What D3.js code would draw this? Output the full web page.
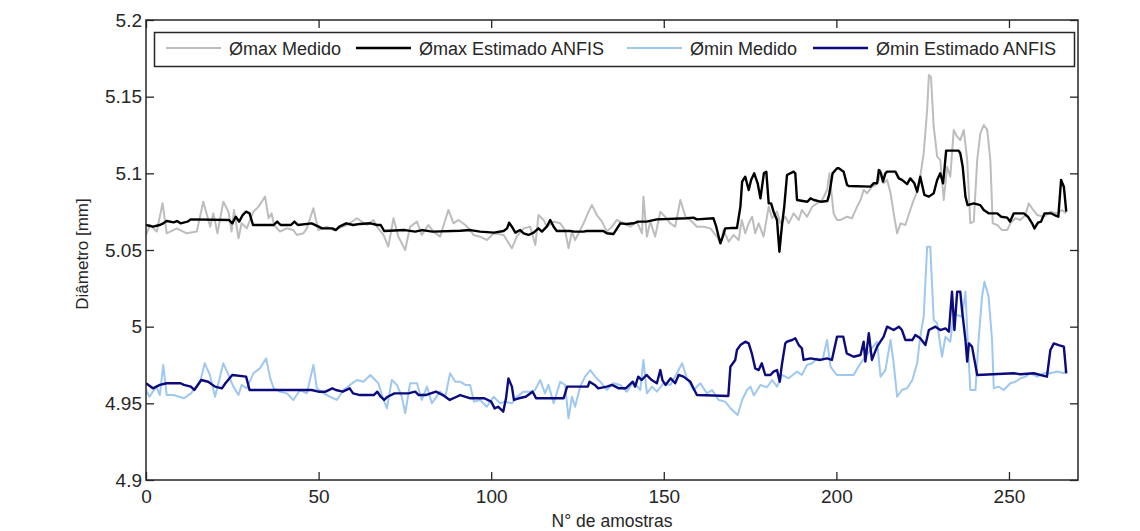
<!DOCTYPE html>
<html lang="pt">
<head>
<meta charset="utf-8">
<title>Diâmetro medido vs estimado ANFIS</title>
<script src="https://cdn.jsdelivr.net/npm/d3@7/dist/d3.min.js"></script>
<style>
    html, body { margin: 0; padding: 0; background: #ffffff; }
    svg { display: block; font-family: "Liberation Sans", Arial, sans-serif; }
</style>
</head>
<body>
<div id="chart"></div>
<script>
// Axis ticks
const xTicks = [0, 50, 100, 150, 200, 250];
const yTicks = [4.9, 4.95, 5.0, 5.05, 5.1, 5.15, 5.2];

// Legend labels (same order as the series are drawn)
const seriesNames = ['Ømax Medido', 'Ømax Estimado ANFIS', 'Ømin Medido', 'Ømin Estimado ANFIS'];

// [sample, diameter mm]
const maxMedido = [
    [0, 5.0598], [1.2, 5.0663], [3.1, 5.062], [4.8, 5.0805], [6, 5.0609], [8.9, 5.0641], [11.8, 5.0609],
    [14.7, 5.062], [16.6, 5.0815], [18.6, 5.0652], [19.5, 5.0739], [20.7, 5.0609], [22.4, 5.0815],
    [23.9, 5.075], [24.8, 5.062], [25.5, 5.0761], [26.8, 5.0576], [27.7, 5.0674], [29.2, 5.0641],
    [31.1, 5.075], [32.6, 5.0783], [34.5, 5.0848], [35.5, 5.0707], [36.4, 5.0739], [37.1, 5.0663],
    [38.8, 5.062], [40.8, 5.0641], [42.7, 5.063], [43.7, 5.0598], [45.6, 5.0609], [46.6, 5.0641],
    [48.5, 5.0772], [49.9, 5.063], [52.4, 5.0652], [54.3, 5.063], [58.2, 5.0663], [61.1, 5.0707],
    [64, 5.0663], [65.9, 5.0696], [66.9, 5.0652], [68.8, 5.0598], [70.2, 5.0522], [71.7, 5.0707],
    [73.1, 5.0587], [75.1, 5.05], [76.5, 5.0652], [78.5, 5.0685], [79.9, 5.0598], [81.8, 5.0663],
    [83.3, 5.062], [85.2, 5.0587], [87.6, 5.0761], [89.1, 5.0674], [90.5, 5.0696], [92.5, 5.0663],
    [93.9, 5.063], [94.9, 5.0598], [96.8, 5.0587], [98.8, 5.0565], [100.7, 5.0609], [103.6, 5.0598],
    [106, 5.0511], [107.4, 5.0587], [109.4, 5.0641], [111.3, 5.0652], [112.8, 5.0533], [113.7, 5.0728],
    [115.2, 5.0696], [116.1, 5.0652], [118.1, 5.0685], [120, 5.0674], [121.4, 5.063], [122.4, 5.0511],
    [123.4, 5.062], [124.3, 5.0565], [125.8, 5.063], [127.2, 5.0696], [128.2, 5.075], [129.2, 5.0793],
    [130.6, 5.0728], [132.1, 5.0685], [133.5, 5.062], [135, 5.0652], [136.4, 5.0696], [138.4, 5.0674],
    [140.3, 5.0652], [142.2, 5.0685], [143.7, 5.0609], [144.1, 5.0848], [145.1, 5.0587], [146.1, 5.0685],
    [147.5, 5.0587], [149, 5.075], [150.4, 5.0717], [151.9, 5.0674], [153.3, 5.0652], [154.8, 5.0826],
    [156.3, 5.0717], [157.7, 5.0696], [159.6, 5.0652], [161.5, 5.0652], [163.5, 5.0641], [165.4, 5.0587],
    [166.4, 5.0544], [167.3, 5.063], [168.8, 5.0554], [170.2, 5.0598], [171.7, 5.0565], [172.6, 5.0696],
    [173.6, 5.0609], [174.6, 5.0674], [175.6, 5.0717], [176.5, 5.0609], [177.5, 5.0674], [178.9, 5.0587],
    [180.4, 5.0783], [181.4, 5.0707], [182.8, 5.075], [183.8, 5.0674], [185.2, 5.0717], [186.2, 5.0674],
    [187.6, 5.0739], [189.1, 5.0696], [190, 5.0761], [191.5, 5.0717], [193, 5.0783], [194.4, 5.0804],
    [195.9, 5.0826], [197.3, 5.0891], [198, 5.1], [199.2, 5.0739], [200.2, 5.0696], [201.2, 5.0696],
    [203.1, 5.0717], [204.5, 5.0707], [206, 5.0783], [207, 5.0826], [207.9, 5.0891], [208.9, 5.087],
    [210.3, 5.0913], [211.3, 5.0924], [212.3, 5.0957], [212.8, 5.1022], [213.7, 5.0935], [214.7, 5.0957],
    [215.7, 5.087], [216.6, 5.0739], [217.6, 5.0609], [218.6, 5.0674], [220, 5.0663], [221.4, 5.0761],
    [222.4, 5.0826], [223.4, 5.088], [224.3, 5.0978], [225.3, 5.1131], [226.3, 5.1413], [226.8, 5.1641],
    [227.4, 5.163], [228.2, 5.1304], [229.2, 5.1109], [230.1, 5.1087], [231.1, 5.0826], [232.1, 5.1043],
    [233, 5.0978], [234, 5.1283], [235, 5.1239], [235.9, 5.1217], [236.9, 5.1283], [237.9, 5.1087],
    [238.8, 5.0674], [239.8, 5.0685], [240.8, 5.1087], [241.7, 5.1261], [242.7, 5.1315], [243.7, 5.1283],
    [244.6, 5.1087], [245.3, 5.0674], [246.6, 5.0663], [248, 5.063], [249.5, 5.063], [250.4, 5.0674],
    [251.9, 5.0707], [253.3, 5.0696], [254.8, 5.0728], [255.7, 5.0804], [256.7, 5.0772], [258.2, 5.0728],
    [260.1, 5.0717], [262, 5.075], [264, 5.0739], [265.4, 5.0761], [266.6, 5.0739]
];

const maxEstimado = [
    [0, 5.0663], [2, 5.0652], [4, 5.0663], [5, 5.0674], [6, 5.0689], [8, 5.068], [9, 5.0689], [10, 5.0674],
    [12, 5.0685], [13, 5.07], [24, 5.0696], [25, 5.0674], [26, 5.0717], [27, 5.0685], [28, 5.0728],
    [29, 5.075], [30, 5.0739], [31, 5.0663], [37, 5.0663], [38, 5.0685], [39, 5.0663], [42, 5.0663],
    [43, 5.0685], [44, 5.0663], [48, 5.0674], [50, 5.0652], [51, 5.0641], [54, 5.0641], [55, 5.063],
    [56, 5.0652], [58, 5.0674], [60, 5.0663], [62, 5.067], [65, 5.0674], [67, 5.0663], [68, 5.0663],
    [69, 5.0624], [75, 5.063], [78, 5.062], [80, 5.063], [83, 5.062], [91, 5.0626], [94, 5.063],
    [96.8, 5.062], [100.8, 5.0613], [103.6, 5.0624], [104.6, 5.0641], [105.2, 5.0678], [106, 5.0652],
    [107, 5.0613], [108.4, 5.063], [109.4, 5.0609], [110.8, 5.0598], [112.3, 5.0613], [113.7, 5.0641],
    [114.7, 5.062], [116.1, 5.0652], [117.1, 5.0696], [118.1, 5.0652], [119, 5.0624], [122.9, 5.0624],
    [124, 5.062], [126.7, 5.062], [127.7, 5.0624], [132.5, 5.0624], [133.5, 5.0609], [135.4, 5.0604],
    [137.4, 5.0674], [139.2, 5.067], [141.2, 5.0674], [142.6, 5.0685], [145, 5.0685], [148, 5.07],
    [156.7, 5.0707], [158.6, 5.0711], [159.6, 5.07], [164.4, 5.0707], [165.2, 5.0652], [165.9, 5.0587],
    [166.4, 5.0544], [167.1, 5.0587], [167.8, 5.0641], [169.3, 5.0643], [171.2, 5.0643], [172.2, 5.0783],
    [172.7, 5.0946], [173.6, 5.0978], [174.6, 5.0891], [175.3, 5.0957], [176.2, 5.1], [177.2, 5.0935],
    [178, 5.0837], [179, 5.1], [179.7, 5.1011], [180.4, 5.0804], [181.1, 5.0804], [181.8, 5.075],
    [182.8, 5.0696], [183.5, 5.0489], [184.2, 5.0652], [184.9, 5.0783], [185.7, 5.0989], [187.6, 5.1011],
    [188.1, 5.1], [188.6, 5.0826], [191.6, 5.0815], [192.5, 5.0837], [193.5, 5.0826], [195.4, 5.0815],
    [197.4, 5.082], [197.9, 5.0859], [198.9, 5.1], [200.2, 5.1033], [200.7, 5.1033], [202.1, 5.1011],
    [203.1, 5.0924], [203.6, 5.0917], [209.9, 5.0913], [210.8, 5.0935], [211.8, 5.0935], [212.3, 5.1022],
    [212.9, 5.1], [213.5, 5.0946], [214.2, 5.1], [214.7, 5.1011], [217.1, 5.1011], [218.1, 5.0967],
    [219, 5.0957], [220.5, 5.093], [221.4, 5.0967], [222.6, 5.0935], [223.4, 5.088], [224.3, 5.0978],
    [225.5, 5.0859], [226.8, 5.0848], [228.2, 5.087], [229.2, 5.0957], [230.1, 5.1], [230.9, 5.0935],
    [231.3, 5.1022], [231.8, 5.1148], [235.4, 5.1148], [235.9, 5.1131], [236.6, 5.1043], [237.4, 5.0848],
    [238, 5.0793], [239.8, 5.0804], [241.7, 5.0793], [242.7, 5.0761], [244.1, 5.0739], [246.6, 5.0739],
    [247.7, 5.0717], [249.5, 5.0711], [250.3, 5.0685], [251.4, 5.0739], [254.3, 5.0739], [255.5, 5.0717],
    [256.7, 5.0674], [257.4, 5.0641], [258.4, 5.0678], [259.3, 5.0685], [260.3, 5.0739], [262.2, 5.0739],
    [263.2, 5.0728], [264.3, 5.0717], [265.1, 5.0957], [265.9, 5.0913], [266.6, 5.075]
];

const minMedido = [
    [0, 4.9587], [1, 4.9543], [3, 4.9609], [4, 4.9554], [5, 4.975], [6, 4.9554], [8, 4.9554], [11, 4.9533],
    [13, 4.9565], [15.7, 4.9641], [17, 4.9761], [18.5, 4.9685], [20, 4.9543], [22.4, 4.9761],
    [23.9, 4.9685], [25.3, 4.9609], [26.8, 4.9554], [27.7, 4.962], [29.2, 4.9598], [31.1, 4.9696],
    [33, 4.9728], [34.8, 4.9793], [36, 4.9663], [37, 4.9598], [38.8, 4.9576], [40.8, 4.9565],
    [42.7, 4.9522], [44.6, 4.9587], [46.6, 4.9565], [48.5, 4.975], [49.5, 4.9598], [51.4, 4.9565],
    [53.3, 4.9543], [55.3, 4.9522], [57.2, 4.9587], [59.1, 4.962], [61.1, 4.9652], [63, 4.9641],
    [65, 4.9685], [67.3, 4.9631], [68.8, 4.9522], [69.8, 4.9467], [71.2, 4.9652], [72.7, 4.962],
    [74.1, 4.9543], [75.1, 4.9435], [76.5, 4.9631], [78.5, 4.9631], [79.9, 4.9522], [81.4, 4.9609],
    [82.8, 4.95], [85.2, 4.9576], [86.7, 4.9543], [88.1, 4.9696], [89.6, 4.9641], [91, 4.9641],
    [92.5, 4.962], [93.9, 4.962], [95, 4.9511], [96.8, 4.9522], [98.7, 4.9478], [100.7, 4.9543],
    [102.6, 4.95], [104, 4.9511], [106, 4.95], [107.4, 4.9543], [109.4, 4.9576], [111.3, 4.9576],
    [112.7, 4.9587], [114.2, 4.9652], [115.6, 4.9565], [116.6, 4.962], [118.1, 4.95], [120, 4.9641],
    [121.4, 4.962], [122.4, 4.9402], [123.4, 4.9543], [124.3, 4.9478], [125.8, 4.9609], [127.2, 4.9674],
    [128.7, 4.9717], [130.1, 4.9674], [131.6, 4.9641], [133.5, 4.9587], [135.4, 4.9631], [137.4, 4.962],
    [139.3, 4.9576], [141.2, 4.9641], [143.2, 4.9587], [144.1, 4.9783], [145.1, 4.9565], [146.6, 4.9609],
    [148, 4.9576], [149.9, 4.9631], [151.9, 4.962], [153.8, 4.9696], [155.3, 4.9761], [156.7, 4.9663],
    [158.6, 4.9587], [160.6, 4.9631], [162.5, 4.9565], [164, 4.9587], [165.9, 4.9522], [167.8, 4.9511],
    [169.3, 4.9468], [171.4, 4.9424], [172.7, 4.9522], [174.1, 4.9587], [175.1, 4.9609], [176.1, 4.9552],
    [178, 4.962], [179.9, 4.9605], [181.4, 4.9652], [182.8, 4.9609], [184.3, 4.9685], [186.2, 4.9663],
    [188.6, 4.9707], [190, 4.9685], [191.5, 4.975], [193, 4.9761], [194.4, 4.9793], [196, 4.9783],
    [197.3, 4.9913], [198.3, 4.9739], [199.7, 4.9696], [200.2, 4.9685], [205, 4.9685], [207, 4.9761],
    [208.4, 4.9804], [209.9, 4.9848], [211.8, 4.9902], [212.8, 4.9674], [214.2, 4.9717], [215.7, 4.9913],
    [216.6, 4.9761], [217.6, 4.9543], [219, 4.9587], [220.5, 4.9598], [222, 4.9652], [223.4, 4.9761],
    [224.3, 4.9935], [225.3, 5.0065], [226.3, 5.0522], [227.2, 5.0522], [228.2, 5.0043], [229.2, 5.0022],
    [230.6, 4.9804], [231.6, 4.9935], [233, 4.9902], [234, 5.0087], [235, 5.0076], [236.4, 5.0065],
    [237.4, 5.0228], [237.9, 4.9978], [238.8, 4.9587], [240.3, 4.9587], [241.2, 4.9913], [242.2, 5.0196],
    [242.9, 5.0293], [244.1, 5.0196], [245.1, 4.9913], [245.6, 4.9598], [247, 4.9609], [248.5, 4.9587],
    [250.4, 4.9631], [251.9, 4.9641], [253.3, 4.9663], [254.8, 4.9674], [256.2, 4.9696], [258.2, 4.9674],
    [260.1, 4.9696], [262, 4.9696], [264, 4.9707], [265.9, 4.9696], [266.6, 4.9717]
];

const minEstimado = [
    [0, 4.9631], [2, 4.9598], [4, 4.962], [6, 4.9631], [10, 4.9631], [11, 4.962], [13, 4.9609], [14, 4.9587],
    [16, 4.9652], [18, 4.9641], [20, 4.9609], [22, 4.9598], [23, 4.9631], [25, 4.9685], [29, 4.9674],
    [30, 4.9587], [48, 4.9587], [50, 4.9576], [52, 4.9576], [54, 4.9598], [55, 4.9587], [57, 4.9576],
    [59, 4.9598], [60, 4.9565], [62, 4.9554], [66, 4.9554], [67, 4.9576], [68, 4.9543], [69, 4.9522],
    [70, 4.9543], [72, 4.9565], [76, 4.9565], [78, 4.9576], [79, 4.9554], [81, 4.9554], [84, 4.9576],
    [86, 4.9554], [88, 4.9522], [90, 4.9543], [91, 4.9554], [94, 4.9533], [98, 4.9533], [100, 4.9511],
    [101, 4.9467], [102, 4.9478], [103.5, 4.9446], [104.3, 4.9533], [105, 4.9663], [106, 4.9609],
    [106.6, 4.9522], [108, 4.9533], [110, 4.9543], [112, 4.9576], [113, 4.9533], [121, 4.9533],
    [122, 4.9609], [128, 4.9609], [128.5, 4.9641], [130, 4.962], [131, 4.9598], [133.5, 4.9609],
    [135, 4.962], [137, 4.9598], [139, 4.9598], [141, 4.9641], [141.7, 4.9609], [142.6, 4.9674],
    [143.6, 4.9652], [145, 4.9685], [146.5, 4.9652], [148, 4.9631], [149, 4.9717], [149.6, 4.9652],
    [150.5, 4.962], [152, 4.9663], [153.3, 4.9631], [154.3, 4.9685], [155.7, 4.9674], [157.7, 4.9641],
    [158.6, 4.9598], [159.6, 4.9554], [168.7, 4.9548], [169.3, 4.9739], [170.7, 4.9783], [171.2, 4.9848],
    [172.2, 4.988], [173.6, 4.9902], [174.6, 4.9891], [175.5, 4.9826], [176.5, 4.9728], [177.5, 4.9717],
    [178.4, 4.9761], [179.4, 4.9685], [180.9, 4.9685], [181.8, 4.9707], [182.8, 4.9717], [183.6, 4.9641],
    [184.2, 4.975], [185.2, 4.9891], [185.7, 4.9902], [187.2, 4.9913], [188.1, 4.9924], [189.1, 4.988],
    [190, 4.9859], [190.5, 4.9783], [192.5, 4.9793], [195.3, 4.9783], [197.3, 4.9793], [198.7, 4.9783],
    [200.2, 4.9935], [202, 4.9935], [203, 4.9826], [205, 4.9804], [207, 4.9815], [207.9, 4.9902],
    [208.4, 4.9772], [209.4, 4.9957], [210.3, 4.9783], [211.8, 4.987], [213.7, 4.9935], [214.7, 5.0],
    [216.6, 4.9978], [218.1, 5.0], [219, 4.9978], [220, 4.9913], [222, 4.9913], [222.9, 4.9946],
    [224.3, 4.9924], [225.8, 4.988], [226.8, 4.9978], [228.7, 5.0], [230.1, 4.9978], [231.6, 4.9989],
    [232.6, 4.9967], [233.5, 5.0228], [234.2, 4.9978], [235, 5.0228], [235.9, 5.0228], [236.4, 5.0109],
    [237.4, 4.9913], [237.9, 4.9772], [238.4, 4.9891], [239.3, 4.987], [240.8, 4.9685], [251.4, 4.9696],
    [253.3, 4.969], [257.2, 4.9696], [261, 4.9674], [262, 4.9848], [263, 4.9891], [264.4, 4.988],
    [265.9, 4.987], [266.6, 4.9696]
];

const seriesData = [maxMedido, maxEstimado, minMedido, minEstimado];

// Styling per series
const seriesColors = ['#bdbdbd', '#000000', '#9ec8f0', '#0b0b7e'];
const seriesWidths = [2, 2.4, 2, 2.4];

// Chart geometry
const W = 1140, H = 531;
const margin = { top: 20, right: 62, bottom: 51, left: 146 };
const width = W - margin.left - margin.right;
const height = H - margin.top - margin.bottom;
const axisColor = '#262626';

const svg = d3.select('#chart').append('svg')
    .attr('width', W)
    .attr('height', H);

const g = svg.append('g')
    .attr('transform', `translate(${margin.left},${margin.top})`);

// Scales
const x = d3.scaleLinear().domain([0, 270]).range([0, width]);
const y = d3.scaleLinear().domain([4.9, 5.2]).range([height, 0]);

const fmt = d => String(+d.toFixed(2));

// Series lines (clipped to the axes box)
g.append('clipPath').attr('id', 'plot-clip')
    .append('rect').attr('width', width).attr('height', height);

const line = d3.line()
    .x(d => x(d[0]))
    .y(d => y(d[1]));

g.append('g')
    .attr('clip-path', 'url(#plot-clip)')
    .selectAll('path')
    .data(seriesData)
    .join('path')
    .attr('fill', 'none')
    .attr('stroke', (d, i) => seriesColors[i])
    .attr('stroke-width', (d, i) => seriesWidths[i])
    .attr('stroke-linejoin', 'round')
    .attr('d', line);

// Axes: MATLAB style, ticks pointing inwards on all four sides
const styleAxis = sel => {
    sel.select('.domain').remove();
    sel.selectAll('line').attr('stroke', axisColor).attr('stroke-width', 1.3);
    sel.selectAll('text')
        .attr('fill', axisColor)
        .style('font-size', '19px')
        .style('font-family', '"Liberation Sans", Arial, sans-serif');
};

g.append('g')
    .attr('transform', `translate(0,${height})`)
    .call(d3.axisBottom(x).tickValues(xTicks).tickSizeInner(-8).tickSizeOuter(0).tickPadding(10))
    .call(styleAxis);

g.append('g')
    .call(d3.axisTop(x).tickValues(xTicks).tickSizeInner(-8).tickSizeOuter(0).tickFormat(''))
    .call(styleAxis);

g.append('g')
    .call(d3.axisLeft(y).tickValues(yTicks).tickSizeInner(-8).tickSizeOuter(0).tickPadding(4).tickFormat(fmt))
    .call(styleAxis);

g.append('g')
    .attr('transform', `translate(${width},0)`)
    .call(d3.axisRight(y).tickValues(yTicks).tickSizeInner(-8).tickSizeOuter(0).tickFormat(''))
    .call(styleAxis);

// Axes box
g.append('rect')
    .attr('width', width)
    .attr('height', height)
    .attr('fill', 'none')
    .attr('stroke', axisColor)
    .attr('stroke-width', 1.5);

// Axis titles
svg.append('text')
    .attr('x', margin.left + width / 2)
    .attr('y', 527)
    .attr('text-anchor', 'middle')
    .attr('fill', axisColor)
    .style('font-size', '17.5px')
    .text('N° de amostras');

svg.append('text')
    .attr('transform', `translate(88,${margin.top + height / 2 + 4}) rotate(-90)`)
    .attr('text-anchor', 'middle')
    .attr('fill', axisColor)
    .style('font-size', '17px')
    .text('Diâmetro [mm]');

// Legend box across the top of the axes
const legend = svg.append('g').attr('class', 'legend');

legend.append('rect')
    .attr('x', 154.5)
    .attr('y', 32.5)
    .attr('width', 920)
    .attr('height', 34)
    .attr('fill', '#ffffff')
    .attr('stroke', axisColor)
    .attr('stroke-width', 1.5);

const legendX = [166, 356, 627, 813];   // start of each sample line

const items = legend.selectAll('.legend-item')
    .data(seriesNames)
    .join('g')
    .attr('class', 'legend-item')
    .attr('transform', (d, i) => `translate(${legendX[i]},0)`);

items.append('line')
    .attr('x1', 0)
    .attr('x2', 55)
    .attr('y1', 48)
    .attr('y2', 48)
    .attr('stroke', (d, i) => seriesColors[i])
    .attr('stroke-width', (d, i) => seriesWidths[i]);

items.append('text')
    .attr('x', 63)
    .attr('y', 55)
    .attr('fill', axisColor)
    .style('font-size', '18px')
    .text(d => d);
</script>
</body>
</html>
